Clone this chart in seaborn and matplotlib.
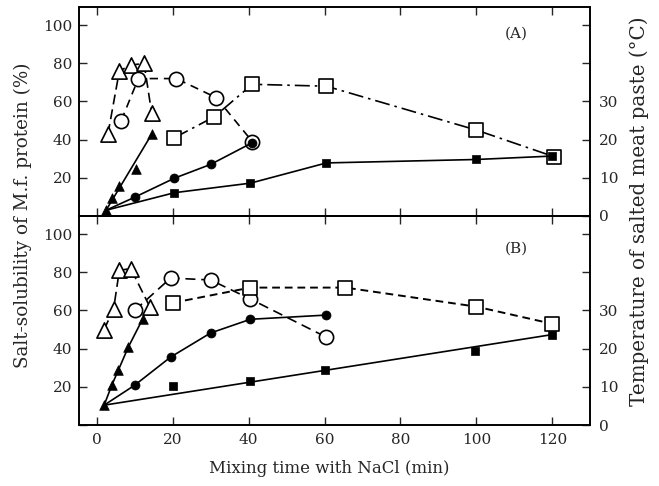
import matplotlib
matplotlib.use("Agg")
import matplotlib.pyplot as plt
import seaborn as sns
from matplotlib.ticker import FixedLocator, FixedFormatter

# ---------------- data ----------------
# Panel A - salt-solubility (%), open symbols
A_tri_x = [3, 6, 9, 12.5, 14.5]
A_tri_y = [43, 76, 79, 80, 54]
A_circ_x = [6.5, 11, 21, 31.5, 41]
A_circ_y = [50, 72, 72, 62, 39]
A_sq_x = [20.5, 31, 41, 60.5, 100, 120.5]
A_sq_y = [41, 52, 69, 68, 45, 31]
# Panel A - temperature (°C), filled symbols
A_start_x = 2.5
A_start_t = 1.5
A_ftri_x = [2.5, 4, 6, 10.5, 14.5]
A_ftri_t = [1.5, 4.6, 7.8, 12.2, 21.4]
A_fcirc_x = [10, 20.5, 30, 41]
A_fcirc_t = [4.9, 9.9, 13.5, 19.2]
A_fsq_x = [20.5, 40.5, 60.5, 100, 120]
A_fsq_t = [6.1, 8.6, 13.9, 14.8, 15.7]

# Panel B - salt-solubility (%), open symbols
B_tri_x = [2, 4.5, 6, 9, 14]
B_tri_y = [50, 61, 81, 82, 62]
B_circ_x = [10, 19.5, 30, 40.5, 60.5]
B_circ_y = [60, 77, 76, 66, 46]
B_sq_x = [20, 40.5, 65.5, 100, 120]
B_sq_y = [64, 72, 72, 62, 53]
# Panel B - temperature (°C), filled symbols
B_start_x = 2
B_start_t = 5.2
B_ftri_x = [2, 4, 5.7, 8.4, 12.2]
B_ftri_t = [5.2, 10.4, 14.3, 20.5, 27.9]
B_fcirc_x = [10, 19.5, 30, 40.5, 60.5]
B_fcirc_t = [10.4, 17.8, 24.1, 27.7, 28.8]
B_fsq_x = [20, 40.5, 60, 99.5, 120]
B_fsq_t = [10.1, 11.4, 14.5, 19.3, 23.7]

x_ticks = [0, 20, 40, 60, 80, 100, 120]
sol_ticks = [0, 20, 40, 60, 80, 100]
sol_labels = ["", "20", "40", "60", "80", "100"]
temp_ticks = [0, 10, 20, 30, 40, 50]
temp_labels = ["0", "10", "20", "30", "", ""]

# ---------------- style ----------------
sns.set_theme(style="ticks")
plt.rcParams["font.family"] = ["DejaVu Serif"]
plt.rcParams["axes.linewidth"] = 1.2

fig = plt.figure(figsize=(6.59, 4.86), dpi=100)
L, W = 0.12, 0.776
axA = fig.add_axes([L, 0.5556, W, 0.43])
axB = fig.add_axes([L, 0.1255, W, 0.43])

XLIM = (-4.6, 130)
SOL_TOP = 109.5


def draw_line(ax, x, y, ls, lw=1.2):
    sns.lineplot(x=x, y=y, ax=ax, color="black", linewidth=lw,
                 linestyle=ls, sort=False, estimator=None, zorder=2)


def draw_marks(ax, x, y, marker, s, filled):
    if filled:
        sns.scatterplot(x=x, y=y, ax=ax, marker=marker, s=s, color="black",
                        edgecolor="black", linewidth=0.5, zorder=4)
    else:
        sns.scatterplot(x=x, y=y, ax=ax, marker=marker, s=s, color="white",
                        edgecolor="black", linewidth=1.2, zorder=3)


def style_axes(ax, ax2, show_xlabels):
    ax.set_xlim(*XLIM)
    ax.set_ylim(0, SOL_TOP)
    ax2.set_ylim(0, SOL_TOP / 2)
    ax.xaxis.set_major_locator(FixedLocator(x_ticks))
    ax.yaxis.set_major_locator(FixedLocator(sol_ticks))
    ax.yaxis.set_major_formatter(FixedFormatter(sol_labels))
    ax2.yaxis.set_major_locator(FixedLocator(temp_ticks))
    ax2.yaxis.set_major_formatter(FixedFormatter(temp_labels))
    ax.tick_params(axis="x", direction="in", top=True, bottom=True,
                   length=6, width=1.0, labelsize=11,
                   labelbottom=show_xlabels, pad=6)
    ax.tick_params(axis="y", direction="in", left=True, right=False,
                   length=6, width=1.0, labelsize=11, pad=5)
    ax2.tick_params(axis="y", direction="in", right=True,
                    length=6, width=1.0, labelsize=11, pad=6)
    ax.set_xlabel("")
    ax.set_ylabel("")
    ax2.set_ylabel("")
    for sp in list(ax.spines.values()) + list(ax2.spines.values()):
        sp.set_color("black")
        sp.set_linewidth(1.2)


# ---------------- panel A ----------------
axA2 = axA.twinx()
# open symbols: solubility (left axis)
draw_line(axA, A_tri_x, A_tri_y, (0, (6, 3)))
draw_line(axA, A_circ_x, A_circ_y, (0, (5, 3.5)))
draw_line(axA, A_sq_x, A_sq_y, (0, (9, 3, 1.5, 3)))
draw_marks(axA, A_tri_x, A_tri_y, "^", 120, False)
draw_marks(axA, A_circ_x, A_circ_y, "o", 105, False)
draw_marks(axA, A_sq_x, A_sq_y, "s", 95, False)
# filled symbols: temperature (right axis)
draw_line(axA2, [A_start_x, A_ftri_x[-1]], [A_start_t, A_ftri_t[-1]], "-")
draw_line(axA2, [A_start_x] + A_fcirc_x, [A_start_t] + A_fcirc_t, "-")
draw_line(axA2, [A_start_x] + A_fsq_x, [A_start_t] + A_fsq_t, "-")
draw_marks(axA2, A_ftri_x, A_ftri_t, "^", 48, True)
draw_marks(axA2, A_fcirc_x, A_fcirc_t, "o", 42, True)
draw_marks(axA2, A_fsq_x, A_fsq_t, "s", 38, True)
style_axes(axA, axA2, False)
axA.text(110.5, 95.5, "(A)", ha="center", va="center", fontsize=11)

# ---------------- panel B ----------------
axB2 = axB.twinx()
draw_line(axB, B_tri_x, B_tri_y, (0, (6, 3)))
draw_line(axB, B_circ_x, B_circ_y, (0, (6, 3.5)))
draw_line(axB, B_sq_x, B_sq_y, (0, (4, 2.5)), lw=1.4)
draw_marks(axB, B_tri_x, B_tri_y, "^", 120, False)
draw_marks(axB, B_circ_x, B_circ_y, "o", 105, False)
draw_marks(axB, B_sq_x, B_sq_y, "s", 95, False)
draw_line(axB2, [B_start_x] + B_ftri_x[1:], [B_start_t] + B_ftri_t[1:], "-")
draw_line(axB2, [B_start_x] + B_fcirc_x, [B_start_t] + B_fcirc_t, "-")
draw_line(axB2, [B_start_x, B_fsq_x[-1]], [B_start_t, B_fsq_t[-1]], "-")
draw_marks(axB2, B_ftri_x, B_ftri_t, "^", 48, True)
draw_marks(axB2, B_fcirc_x, B_fcirc_t, "o", 42, True)
draw_marks(axB2, B_fsq_x, B_fsq_t, "s", 38, True)
style_axes(axB, axB2, True)
axB.text(110.5, 92.5, "(B)", ha="center", va="center", fontsize=11)

# ---------------- labels ----------------
fig.text(0.50, 0.037, "Mixing time with NaCl (min)", ha="center",
         va="center", fontsize=12)
fig.text(0.034, 0.558, "Salt-solubility of M.f. protein (%)", rotation=90,
         ha="center", va="center", fontsize=13.2)
fig.text(0.970, 0.565, "Temperature of salted meat paste (\u00b0C)",
         rotation=90, ha="center", va="center", fontsize=14.3)

fig.savefig("out.png", dpi=100)
